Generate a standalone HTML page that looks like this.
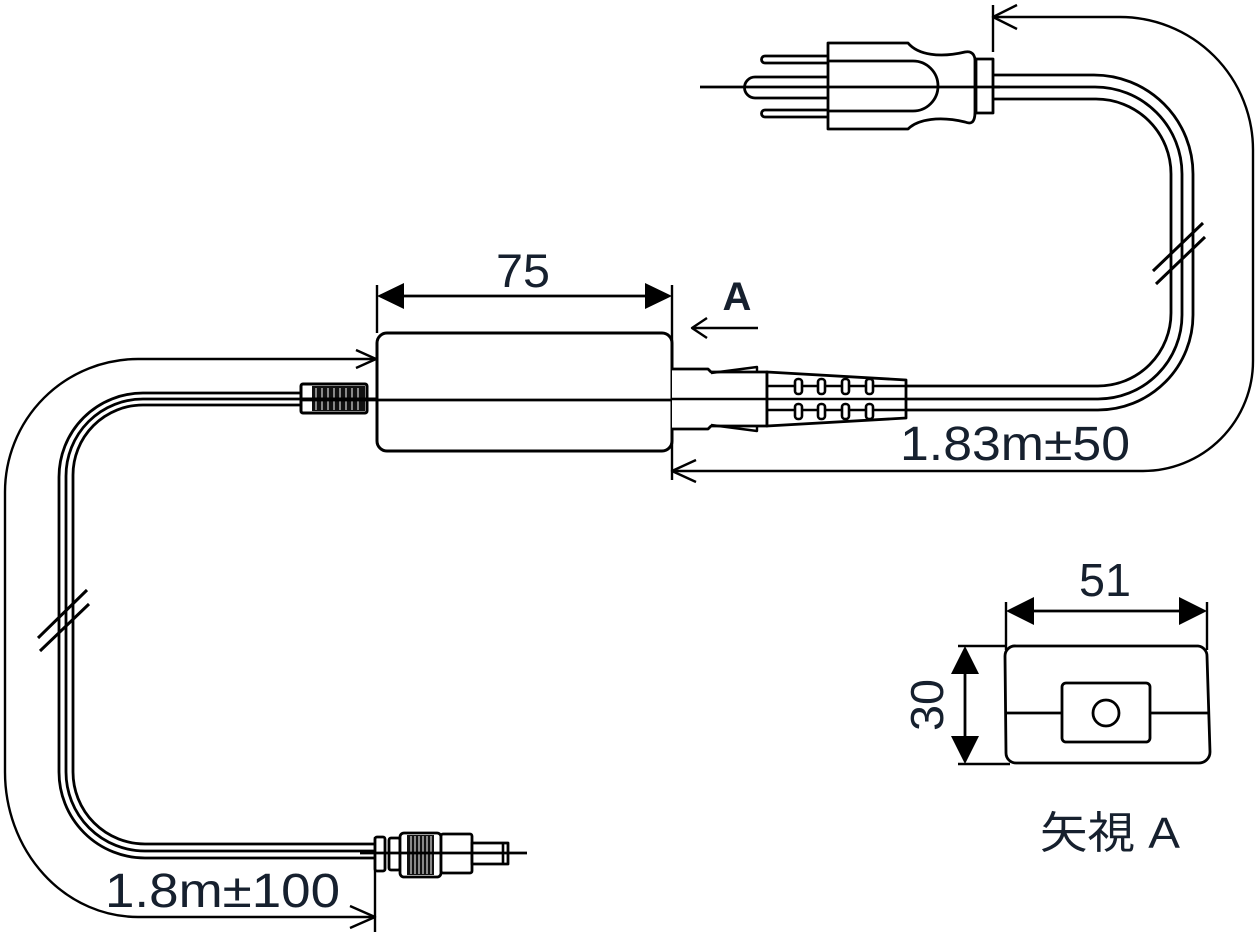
<!DOCTYPE html>
<html><head><meta charset="utf-8"><style>
html,body{margin:0;padding:0;background:#fff;}
svg{display:block;}
text{font-family:"Liberation Sans","Noto Sans CJK JP",sans-serif;fill:#16202e;}
</style></head><body>
<svg width="1255" height="935" viewBox="0 0 1255 935" xmlns="http://www.w3.org/2000/svg">
<g fill="none" stroke="#000" stroke-width="2.8" stroke-linejoin="round">
<!-- Left cable -->
<path d="M301,393 H143 A84,84 0 0 0 59,477 V772 A86,86 0 0 0 145,858 H375"/>
<path d="M301,399 H143 A77,77 0 0 0 66,476 V772 A79,79 0 0 0 145,851 H375"/>
<path d="M301,405 H143 A70,70 0 0 0 73,475 V772 A72,72 0 0 0 145,844 H375"/>
<line x1="38" y1="638" x2="87" y2="590" stroke-width="3"/>
<line x1="40" y1="651" x2="89" y2="604" stroke-width="3"/>
<!-- left outer dim -->
<path d="M376,359 H138 A133,133 0 0 0 5,492 V772 A133,145 0 0 0 138,917 H375" stroke-width="2.4"/>
<path d="M356,350 L376,359 L356,368" stroke-width="2.4"/>
<path d="M350,906 L375,917 L350,928" stroke-width="2.4"/>
<line x1="375" y1="837" x2="375" y2="932" stroke-width="2.4"/>
<!-- left strain relief -->
<rect x="301" y="384" width="66" height="29" rx="2" fill="#fff" stroke-width="3"/>
<rect x="312" y="386" width="53" height="25" fill="#111" stroke="none"/>
<g stroke="#fff" stroke-width="1"><line x1="316" y1="388" x2="316" y2="410"/><line x1="322" y1="388" x2="322" y2="410"/><line x1="328" y1="388" x2="328" y2="410"/><line x1="334" y1="388" x2="334" y2="410"/><line x1="340" y1="388" x2="340" y2="410"/><line x1="346" y1="388" x2="346" y2="410"/><line x1="352" y1="388" x2="352" y2="410"/><line x1="358" y1="388" x2="358" y2="410"/></g>
<line x1="301" y1="399" x2="377" y2="399" stroke-width="3"/>
<!-- main box -->
<rect x="377" y="333" width="295" height="118" rx="10" fill="#fff" stroke-width="3"/>
<line x1="300" y1="400" x2="766" y2="400" stroke-width="2.8"/>
<!-- 75 dim -->
<line x1="377" y1="285" x2="377" y2="333" stroke-width="2.4"/>
<line x1="672" y1="285" x2="672" y2="480" stroke-width="2.4"/>
<line x1="395" y1="296" x2="655" y2="296" stroke-width="2.8"/>
<path d="M377,296 L404,283 L404,309 Z M672,296 L645,283 L645,309 Z" fill="#000" stroke="none"/>
<!-- A arrow -->
<line x1="692" y1="328" x2="758" y2="328" stroke-width="2.4"/>
<path d="M707,318 L692,328 L707,338" stroke-width="2.4"/>
<!-- right connector -->
<path d="M672,369 H708 L711,372 H767 V426 H711 L708,429 H672" fill="#fff" stroke-width="2.8"/>
<path d="M711,373 L757,367 L757,373" stroke-width="2.4"/>
<path d="M711,425 L757,431 L757,425" stroke-width="2.4"/>
<path d="M767,372 L906,380 V418 L767,426 Z" fill="#fff" stroke-width="2.8"/>
<line x1="767" y1="386" x2="906" y2="386" stroke-width="2.6"/>
<line x1="767" y1="410" x2="906" y2="410" stroke-width="2.6"/>
<line x1="672" y1="399" x2="906" y2="399" stroke-width="2.6"/>
<g stroke-width="2.6" fill="#fff">
<rect x="795" y="379" width="7" height="15" rx="3"/><rect x="818" y="379" width="7" height="15" rx="3"/><rect x="842" y="379" width="7" height="15" rx="3"/><rect x="866" y="379" width="7" height="15" rx="3"/>
<rect x="795" y="404" width="7" height="15" rx="3"/><rect x="818" y="404" width="7" height="15" rx="3"/><rect x="842" y="404" width="7" height="15" rx="3"/><rect x="866" y="404" width="7" height="15" rx="3"/>
</g>
<!-- right cable -->
<path d="M906,386 H1098 A73,73 0 0 0 1171,313 V174 A75,75 0 0 0 1096,99 H993"/>
<path d="M906,399 H1098 A84,84 0 0 0 1182,315 V174 A87,87 0 0 0 1095,87 H993"/>
<path d="M906,410 H1098 A95,95 0 0 0 1193,315 V174 A99,99 0 0 0 1094,75 H993"/>
<line x1="1153" y1="271" x2="1203" y2="223" stroke-width="3"/>
<line x1="1156" y1="284" x2="1205" y2="237" stroke-width="3"/>
<!-- right outer dim -->
<path d="M672,471 H1143 A110,110 0 0 0 1253,361 V150 A133,133 0 0 0 1120,17 H993" stroke-width="2.4"/>
<path d="M1017,5 L993,17 L1017,29" stroke-width="2.4"/>
<path d="M696,460 L672,471 L696,482" stroke-width="2.4"/>
<line x1="993" y1="5" x2="993" y2="52" stroke-width="2.4"/>
<!-- plug -->
<path d="M828,43 H908 C918,55 940,58 965,52 C975,50 975,60 975,60 V112 C975,124 970,124 965,122 C940,116 918,119 908,129 H828 Z" fill="#fff" stroke-width="2.8"/>
<path d="M828,61 H913 A25,25 0 0 1 913,111 H828" stroke-width="2.8"/>
<rect x="976" y="59" width="17" height="54" fill="#fff" stroke-width="2.8"/>
<path d="M828,56 H765 A3.5,3.5 0 0 0 765,63 H828" stroke-width="2.8"/>
<path d="M828,110 H765 A3.5,3.5 0 0 0 765,117 H828" stroke-width="2.8"/>
<path d="M828,77 H755 A10.5,10.5 0 0 0 755,98 H828" stroke-width="2.8"/>
<line x1="700" y1="87" x2="1000" y2="87" stroke-width="2.8"/>
<!-- DC plug -->
<rect x="375" y="837" width="10" height="34" rx="2" fill="#fff" stroke-width="2.8"/>
<rect x="389" y="838" width="11" height="32" rx="2" fill="#fff" stroke-width="2.8"/>
<rect x="400" y="833" width="41" height="44" rx="4" fill="#fff" stroke-width="2.8"/>
<rect x="407" y="835" width="27" height="40" fill="#111" stroke="none"/>
<g stroke="#fff" stroke-width="1"><line x1="411" y1="836" x2="411" y2="874"/><line x1="415" y1="836" x2="415" y2="874"/><line x1="419" y1="836" x2="419" y2="874"/><line x1="423" y1="836" x2="423" y2="874"/><line x1="427" y1="836" x2="427" y2="874"/><line x1="431" y1="836" x2="431" y2="874"/></g>
<rect x="441" y="834" width="31" height="39" rx="2" fill="#fff" stroke-width="2.8"/>
<rect x="472" y="843" width="36" height="21" fill="#fff" stroke-width="2.8"/>
<line x1="503" y1="843" x2="503" y2="864" stroke-width="2.6"/>
<line x1="360" y1="853" x2="527" y2="853" stroke-width="2.8"/>
<!-- View A -->
<path d="M1016,646 H1198 A10,10 0 0 1 1207,656 L1210,752 A11,11 0 0 1 1199,763 H1016 A10,10 0 0 1 1006,753 L1005,656 A10,10 0 0 1 1016,646 Z" stroke-width="2.8"/>
<line x1="1005" y1="713" x2="1210" y2="713" stroke-width="2.8"/>
<rect x="1062" y="683" width="88" height="59" rx="4" fill="#fff" stroke-width="2.8"/>
<circle cx="1106" cy="713" r="13" fill="#fff" stroke-width="2.8"/>
<line x1="1006" y1="602" x2="1006" y2="650" stroke-width="2.4"/>
<line x1="1207" y1="602" x2="1207" y2="650" stroke-width="2.4"/>
<line x1="1030" y1="611" x2="1183" y2="611" stroke-width="2.8"/>
<path d="M1006,611 L1034,597 L1034,625 Z M1207,611 L1179,597 L1179,625 Z" fill="#000" stroke="none"/>
<line x1="958" y1="646" x2="1006" y2="646" stroke-width="2.4"/>
<line x1="958" y1="764" x2="1010" y2="764" stroke-width="2.4"/>
<line x1="965" y1="670" x2="965" y2="740" stroke-width="2.8"/>
<path d="M965,646 L951,674 L979,674 Z M965,764 L951,736 L979,736 Z" fill="#000" stroke="none"/>
</g>
<text x="496" y="287" font-size="47" textLength="54" lengthAdjust="spacingAndGlyphs">75</text>
<text x="737" y="310" font-size="40" font-weight="bold" text-anchor="middle" fill="#000">A</text>
<text x="900" y="460" font-size="48" textLength="230" lengthAdjust="spacingAndGlyphs">1.83m±50</text>
<text x="105" y="907" font-size="48" textLength="235" lengthAdjust="spacingAndGlyphs">1.8m±100</text>
<text x="1079" y="596" font-size="46" textLength="52" lengthAdjust="spacingAndGlyphs">51</text>
<text x="0" y="0" font-size="46" textLength="52" lengthAdjust="spacingAndGlyphs" transform="translate(943,731) rotate(-90)">30</text>
<text x="1040" y="848" font-size="44" textLength="140" lengthAdjust="spacingAndGlyphs">矢視 A</text>
</svg>
</body></html>
